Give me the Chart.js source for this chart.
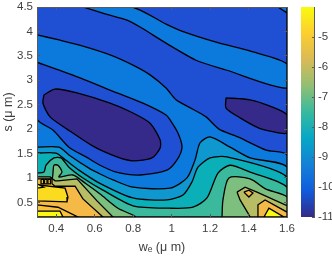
<!DOCTYPE html>
<html>
<head>
<meta charset="utf-8">
<script src="https://cdn.jsdelivr.net/npm/chart.js@4"></script>
<style>
  body { margin: 0; background: #fff; }
  #wrap { position: relative; width: 332px; height: 258px; }
  canvas { position: absolute; top: 0; }
</style>
</head>
<body>
<div id="wrap">
  <canvas id="main" width="332" height="258" style="left:0"></canvas>
  <canvas id="bar" width="42" height="258" style="left:290px"></canvas>
</div>
<script>
// axis ticks
const weTicks = [0.4, 0.6, 0.8, 1, 1.2, 1.4, 1.6];
const sTicks = [0.5, 1, 1.5, 2, 2.5, 3, 3.5, 4, 4.5];
const barTicks = [-11, -10, -9, -8, -7, -6, -5];
const barRange = [-11, -4];
const weRange = [0.3, 1.6];
const sRange = [0.2, 4.5];

// contour outlines, [we, s]
const plotBox = [[0.3,0.2],[0.3,4.5],[1.6,4.5],[1.6,0.2]];
const lvlCmain = [[0.3,3.93],[0.42,3.82],[0.539,3.7],[0.68,3.52],[0.799,3.31],[0.888,3.11],[0.971,2.84],[1.023,2.6],[1.09,2.45],[1.179,2.25],[1.246,2],[1.345,1.84],[1.491,1.57],[1.6,1.47],[1.6,0.25],[1.6,0.2],[1.57,0.2],[0.33,0.2],[0.3,0.2],[0.3,0.25]];
const lvlCtop = [[0.539,4.5],[0.654,4.36],[0.768,4.23],[0.836,4.09],[0.971,3.76],[1.127,3.41],[1.283,3.21],[1.6,2.84],[1.6,3.33],[1.423,3.58],[1.231,3.78],[1.064,3.99],[0.971,4.15],[0.794,4.5]];
const lvlCcorner = [[1.553,4.5],[1.6,4.38],[1.6,4.5]];
const lvlBisland = [[0.3,3.37],[0.524,3.05],[0.716,2.74],[0.851,2.53],[0.971,2.29],[0.992,2.19],[1.033,1.92],[1.054,1.63],[1.028,1.37],[0.976,1.16],[0.836,1.06],[0.711,1.12],[0.628,1.26],[0.555,1.43],[0.466,1.63],[0.383,1.98],[0.3,2.21]];
const lvlAleft = [[0.336,2.7],[0.394,2.82],[0.508,2.74],[0.68,2.53],[0.799,2.33],[0.888,2.12],[0.94,1.78],[0.94,1.61],[0.898,1.41],[0.799,1.35],[0.716,1.43],[0.591,1.65],[0.456,2],[0.368,2.25],[0.331,2.53]];
const lvlAright = [[1.283,2.64],[1.408,2.6],[1.512,2.47],[1.6,2.29],[1.6,1.92],[1.512,1.96],[1.454,2.02],[1.356,2.23],[1.283,2.43]];
const lvlD = [[0.3,1.63],[0.414,1.63],[0.466,1.47],[0.57,1.2],[0.628,1.08],[0.695,0.96],[0.799,0.81],[0.992,0.79],[1.08,1],[1.122,1.37],[1.148,1.72],[1.2,1.84],[1.304,1.63],[1.408,1.41],[1.6,1.22],[1.6,0.25],[1.6,0.2],[1.57,0.2],[0.33,0.2],[0.3,0.2],[0.3,0.25]];
const lvlE = [[0.3,1.51],[0.399,1.51],[0.451,1.36],[0.518,1.16],[0.622,0.9],[0.799,0.59],[0.976,0.55],[1.059,0.65],[1.106,0.92],[1.137,1.22],[1.2,1.41],[1.288,1.43],[1.6,1.02],[1.6,0.25],[1.6,0.2],[1.57,0.2],[0.33,0.2],[0.3,0.2],[0.3,0.25]];
const lvlF = [[0.3,1.1],[0.336,1.12],[0.347,1.26],[0.388,1.41],[0.425,1.41],[0.466,1.22],[0.539,1],[0.643,0.75],[0.799,0.43],[0.992,0.38],[1.111,0.4],[1.184,0.59],[1.241,1.1],[1.304,1.26],[1.408,1.12],[1.6,0.81],[1.6,0.25],[1.6,0.2],[1.57,0.2],[0.33,0.2],[0.3,0.2],[0.3,0.25]];
const lvlGleft = [[0.3,1],[0.378,1],[0.383,1.1],[0.388,1.26],[0.409,1.26],[0.43,1.12],[0.414,1.02],[0.487,1.06],[0.555,0.88],[0.628,0.67],[0.721,0.38],[0.81,0.2],[0.33,0.2],[0.3,0.2],[0.3,0.25]];
const lvlGright = [[1.262,0.2],[1.267,0.55],[1.298,1],[1.408,0.98],[1.491,0.77],[1.6,0.61],[1.6,0.25],[1.6,0.2],[1.57,0.2]];
const lvlHleft = [[0.3,1.02],[0.368,1.02],[0.394,0.94],[0.409,0.94],[0.508,0.98],[0.612,0.53],[0.695,0.2],[0.3,0.2]];
const lvlHright = [[1.34,0.71],[1.382,0.81],[1.444,0.71],[1.6,0.43],[1.6,0.2],[1.408,0.2],[1.397,0.28],[1.356,0.55]];
const lvlIleft = [[0.3,0.98],[0.378,0.98],[0.378,0.88],[0.394,0.83],[0.498,0.83],[0.539,0.57],[0.643,0.2],[0.3,0.2]];
const lvlIright = [[1.449,0.2],[1.449,0.45],[1.486,0.55],[1.6,0.3],[1.6,0.2]];
const lvlIspot = [[1.376,0.71],[1.402,0.75],[1.423,0.69],[1.402,0.61]];
const lvlJ = [[0.3,0.86],[0.446,0.79],[0.461,0.61],[0.456,0.51],[0.3,0.53]];
const lvlJnick = [[0.3,0.88],[0.335,0.81],[0.3,0.79]];
const lvlJcell1 = [[0.321,0.97],[0.334,0.97],[0.334,0.88],[0.321,0.88]];
const lvlJcell2 = [[0.339,0.97],[0.352,0.97],[0.352,0.88],[0.339,0.88]];
const lvlJcell3 = [[0.357,0.97],[0.37,0.97],[0.37,0.88],[0.357,0.88]];
const lvlIbottom = [[0.3,0.45],[0.409,0.4],[0.513,0.2],[0.3,0.2]];
const lvlKleft = [[0.3,0.32],[0.42,0.32],[0.435,0.2],[0.3,0.2]];
const lvlKright = [[1.48,0.2],[1.506,0.38],[1.584,0.2]];

// parula stops for the colour bar
const parula = ["#352a87", "#0f5cdd", "#1481d6", "#06a7c6", "#38b99e", "#92bf73", "#d9ba56", "#fcce2e", "#f9fb0e"];

const colA = "#35298a", colB = "#1f4fd2", colC = "#0c79dc", colD = "#0f98d0", colE = "#0bafb8",
      colF = "#3ab99c", colG = "#7cbf7e", colH = "#b7bd64", colI = "#f5b947", colI2 = "#f8c23a",
      colJ = "#fbdb20", colK = "#f9f914";

// painted in this order, later ones on top
const bands = [
  [plotBox, colB], [lvlCmain, colC], [lvlCtop, colC], [lvlCcorner, colC], [lvlBisland, colB],
  [lvlAleft, colA], [lvlAright, colA], [lvlD, colD], [lvlE, colE], [lvlF, colF],
  [lvlGleft, colG], [lvlGright, colG], [lvlHleft, colH], [lvlHright, colH],
  [lvlIleft, colI], [lvlIright, colI], [lvlIspot, colI], [lvlJ, colJ], [lvlJnick, colK],
  [lvlJcell1, colJ], [lvlJcell2, colJ], [lvlJcell3, colJ], [lvlIbottom, colI2],
  [lvlKleft, colK], [lvlKright, colK],
];
// the long contours get a little smoothing, small pieces stay sharp
const smoothBands = [lvlCmain, lvlCtop, lvlBisland, lvlAleft, lvlAright, lvlD, lvlE, lvlF, lvlGleft, lvlGright];

const textColor = "#404040";
const frameColor = "#5a5a5a";
const tickFont = { family: "'Liberation Sans', Arial, sans-serif", size: 11.5 };

function setTicks(values) {
  return (scale) => {
    scale.ticks = values.map((v) => ({ value: v }));
  };
}

// fixed axis box so the plot sits where it does in the picture
function fixBox(prop, size) {
  return (s) => {
    s[prop] = size;
    s.paddingTop = s.paddingBottom = s.paddingLeft = s.paddingRight = 0;
  };
}

function frameAxis(pos, extra) {
  return Object.assign({
    position: pos,
    grid: { drawOnChartArea: false, tickLength: -3, color: frameColor, z: 1 },
    border: { color: frameColor, z: 1 },
  }, extra);
}

new Chart(document.getElementById("main"), {
  type: "scatter",
  data: {
    datasets: bands.map(([pts, col], i) => ({
      data: [...pts, pts[0]].map(([x, y]) => ({ x, y })),
      showLine: true,
      fill: "shape",
      backgroundColor: col,
      borderColor: "#000",
      borderWidth: 1.3,
      pointRadius: 0,
      tension: smoothBands.includes(pts) ? 0.25 : 0,
      clip: 0,
      order: bands.length - i,
    })),
  },
  options: {
    responsive: false,
    animation: false,
    layout: { padding: { top: 7, right: 45, bottom: 0, left: 0 } },
    plugins: { legend: { display: false }, tooltip: { enabled: false } },
    scales: {
      x: frameAxis("bottom", {
        type: "linear", min: weRange[0], max: weRange[1],
        afterBuildTicks: setTicks(weTicks),
        afterFit: fixBox("height", 41),
        ticks: { color: textColor, font: tickFont, padding: 8, maxRotation: 0, autoSkip: false, callback: (v) => String(v) },
        title: { display: true, text: "wₑ (μ m)", color: textColor, font: { family: tickFont.family, size: 12.5 }, padding: { top: 1, bottom: 3 } },
      }),
      y: frameAxis("left", {
        type: "linear", min: sRange[0], max: sRange[1],
        afterBuildTicks: setTicks(sTicks),
        afterFit: fixBox("width", 37),
        ticks: { color: textColor, font: tickFont, padding: 7, autoSkip: false, callback: (v) => String(v) },
        title: { display: true, text: "s (μ m)", color: textColor, font: { family: tickFont.family, size: 12.5 }, padding: { top: 1, bottom: 1 } },
      }),
      xTop: frameAxis("top", {
        type: "linear", min: weRange[0], max: weRange[1],
        afterBuildTicks: setTicks(weTicks),
        afterFit: fixBox("height", 0),
        ticks: { display: false },
      }),
      yRight: frameAxis("right", {
        type: "linear", min: sRange[0], max: sRange[1],
        afterBuildTicks: setTicks(sTicks),
        afterFit: fixBox("width", 0),
        ticks: { display: false },
      }),
    },
  },
});

// colour bar, one floating bar with the parula ramp
new Chart(document.getElementById("bar"), {
  type: "bar",
  data: {
    labels: [""],
    datasets: [{
      data: [barRange],
      barPercentage: 1,
      categoryPercentage: 1,
      backgroundColor: (c) => {
        const area = c.chart.chartArea;
        if (!area) return parula[0];
        const g = c.chart.ctx.createLinearGradient(0, area.bottom, 0, area.top);
        parula.forEach((col, i) => g.addColorStop(i / (parula.length - 1), col));
        return g;
      },
    }],
  },
  options: {
    responsive: false,
    animation: false,
    layout: { padding: { top: 7, right: 0, bottom: 41, left: 11 } },
    plugins: { legend: { display: false }, tooltip: { enabled: false } },
    scales: {
      x: { display: false },
      y: {
        position: "right",
        min: barRange[0], max: barRange[1],
        afterBuildTicks: setTicks(barTicks),
        afterFit: fixBox("width", 18),
        grid: { drawOnChartArea: false, tickLength: -2, color: frameColor, z: 1 },
        border: { color: frameColor, z: 1 },
        ticks: { color: textColor, font: tickFont, padding: 6, autoSkip: false, callback: (v) => String(v) },
      },
    },
  },
});
</script>
</body>
</html>
